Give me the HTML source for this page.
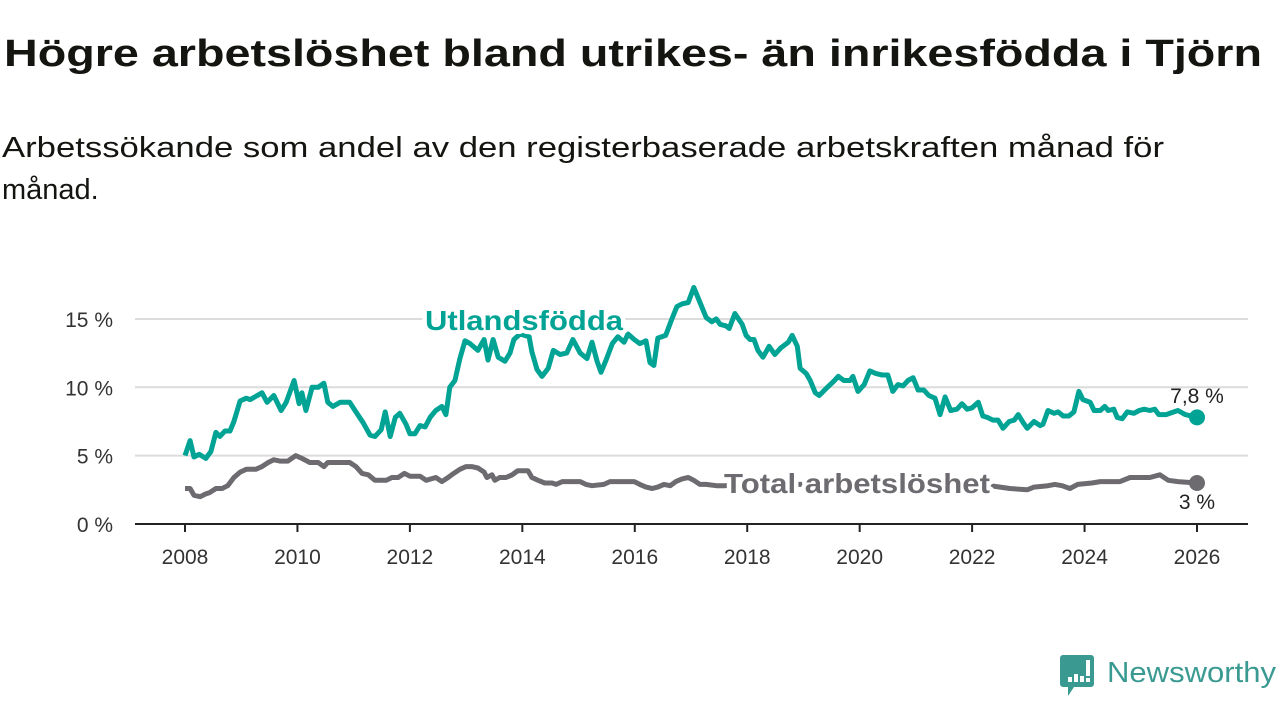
<!DOCTYPE html>
<html><head><meta charset="utf-8">
<style>
html,body{margin:0;padding:0;background:#fff;}
svg{display:block;font-family:"Liberation Sans",sans-serif;}
</style></head>
<body>
<svg id="chart" width="1280" height="720" viewBox="0 0 1280 720" xmlns="http://www.w3.org/2000/svg">
<text x="4" y="66" font-size="38" font-weight="bold" fill="#141410" textLength="1258" lengthAdjust="spacingAndGlyphs">Högre arbetslöshet bland utrikes- än inrikesfödda i Tjörn</text>
<text x="2" y="157" font-size="29" fill="#141410" textLength="1162" lengthAdjust="spacingAndGlyphs">Arbetssökande som andel av den registerbaserade arbetskraften månad för</text>
<text x="2" y="199" font-size="29" fill="#141410">månad.</text>
<g id="grid"></g>
<g id="axes"></g>
<g id="series"></g>
<g id="labels"></g>
<g>
<path d="M1063 655 h28 a3 3 0 0 1 3 3 v26 a3 3 0 0 1 -3 3 h-17 l-6 9 v-9 h-5 a3 3 0 0 1 -3 -3 v-26 a3 3 0 0 1 3 -3z" fill="#3a9a92"/>
<rect x="1068" y="677" width="4" height="5" fill="#fff"/><rect x="1074" y="674" width="4" height="8" fill="#fff"/><rect x="1080" y="676" width="4" height="6" fill="#fff"/><rect x="1086" y="660" width="4" height="16" fill="#fff"/><rect x="1086" y="678" width="4" height="4" fill="#fff"/>
<text x="1107" y="682" font-size="29" fill="#3a9a92" textLength="169" lengthAdjust="spacingAndGlyphs">Newsworthy</text>
</g>
</svg>
<script>
const yearsU = [2008.00,2008.09,2008.16,2008.25,2008.37,2008.46,2008.55,2008.62,2008.71,2008.80,2008.87,2008.98,2009.09,2009.16,2009.37,2009.46,2009.58,2009.71,2009.80,2009.94,2010.03,2010.08,2010.15,2010.26,2010.37,2010.47,2010.54,2010.63,2010.76,2010.93,2011.04,2011.17,2011.29,2011.38,2011.49,2011.56,2011.65,2011.74,2011.82,2011.93,2012.00,2012.09,2012.18,2012.27,2012.36,2012.46,2012.57,2012.64,2012.71,2012.80,2012.89,2012.98,2013.07,2013.21,2013.32,2013.39,2013.48,2013.57,2013.69,2013.78,2013.85,2013.96,2014.12,2014.17,2014.26,2014.35,2014.46,2014.55,2014.67,2014.79,2014.90,2015.03,2015.15,2015.24,2015.33,2015.40,2015.49,2015.60,2015.70,2015.81,2015.88,2015.99,2016.09,2016.20,2016.27,2016.34,2016.41,2016.55,2016.66,2016.75,2016.84,2016.95,2017.05,2017.16,2017.27,2017.37,2017.45,2017.52,2017.62,2017.68,2017.78,2017.91,2017.98,2018.05,2018.12,2018.19,2018.28,2018.39,2018.49,2018.60,2018.73,2018.80,2018.89,2018.94,2019.05,2019.12,2019.21,2019.28,2019.40,2019.53,2019.62,2019.72,2019.83,2019.88,2019.97,2020.08,2020.18,2020.29,2020.40,2020.50,2020.59,2020.68,2020.77,2020.86,2020.95,2021.04,2021.14,2021.23,2021.34,2021.43,2021.52,2021.62,2021.73,2021.82,2021.91,2022.00,2022.11,2022.19,2022.27,2022.37,2022.46,2022.55,2022.66,2022.75,2022.82,2022.91,2022.98,2023.10,2023.21,2023.26,2023.35,2023.46,2023.53,2023.62,2023.72,2023.81,2023.90,2023.97,2024.10,2024.17,2024.28,2024.36,2024.42,2024.52,2024.58,2024.67,2024.76,2024.88,2024.97,2025.06,2025.16,2025.25,2025.32,2025.45,2025.52,2025.66,2025.79,2026.00];
const valuesU = [5.0,6.1,4.9,5.1,4.8,5.3,6.7,6.4,6.8,6.8,7.5,9.0,9.2,9.1,9.6,8.9,9.4,8.3,8.9,10.5,8.8,9.6,8.3,10.0,10.0,10.3,8.9,8.6,8.9,8.9,8.2,7.4,6.5,6.4,6.9,8.2,6.4,7.8,8.1,7.3,6.6,6.6,7.2,7.1,7.8,8.3,8.6,8.0,10.0,10.5,12.1,13.4,13.2,12.7,13.5,12.0,13.5,12.2,11.9,12.5,13.5,13.9,13.7,12.6,11.3,10.8,11.4,12.7,12.4,12.5,13.5,12.5,12.1,13.3,11.9,11.1,12.0,13.2,13.7,13.3,13.9,13.5,13.2,13.4,11.8,11.6,13.6,13.8,15.0,15.9,16.1,16.2,17.3,16.2,15.1,14.8,15.0,14.6,14.5,14.3,15.4,14.6,13.8,13.5,13.5,12.7,12.2,13.0,12.4,12.9,13.3,13.8,13.0,11.4,11.0,10.5,9.6,9.4,9.9,10.4,10.8,10.5,10.5,10.8,9.7,10.2,11.2,11.0,10.9,10.9,9.7,10.2,10.1,10.5,10.7,9.8,9.8,9.4,9.2,8.0,9.3,8.3,8.4,8.8,8.4,8.5,8.9,7.9,7.8,7.6,7.6,7.0,7.5,7.6,8.0,7.4,7.0,7.5,7.2,7.3,8.3,8.1,8.2,7.9,7.9,8.2,9.7,9.1,8.9,8.3,8.3,8.6,8.3,8.4,7.8,7.7,8.2,8.1,8.3,8.4,8.3,8.4,8.0,8.0,8.1,8.3,8.0,7.8];
const yearsT = [2008.00,2008.09,2008.16,2008.27,2008.37,2008.44,2008.55,2008.66,2008.76,2008.87,2008.98,2009.09,2009.26,2009.37,2009.48,2009.58,2009.69,2009.83,2009.97,2010.08,2010.22,2010.37,2010.47,2010.54,2010.67,2010.93,2011.04,2011.15,2011.26,2011.38,2011.58,2011.68,2011.79,2011.90,2012.00,2012.18,2012.29,2012.46,2012.57,2012.68,2012.78,2012.89,2013.00,2013.10,2013.21,2013.32,2013.37,2013.46,2013.51,2013.60,2013.71,2013.82,2013.92,2014.10,2014.17,2014.28,2014.40,2014.53,2014.60,2014.71,2014.94,2015.03,2015.13,2015.24,2015.45,2015.56,2015.99,2016.09,2016.20,2016.31,2016.41,2016.52,2016.63,2016.73,2016.84,2016.95,2017.05,2017.16,2017.27,2017.45,2017.59,2018.00,2019.00,2020.00,2020.30,2020.50,2021.00,2021.50,2022.00,2022.32,2022.50,2022.67,2022.98,2023.10,2023.35,2023.47,2023.60,2023.74,2023.88,2024.13,2024.28,2024.63,2024.81,2024.99,2025.16,2025.34,2025.49,2025.66,2026.00];
const valuesT = [2.6,2.6,2.1,2.0,2.2,2.3,2.6,2.6,2.8,3.4,3.8,4.0,4.0,4.2,4.5,4.7,4.6,4.6,5.0,4.8,4.5,4.5,4.2,4.5,4.5,4.5,4.2,3.7,3.6,3.2,3.2,3.4,3.4,3.7,3.5,3.5,3.2,3.4,3.1,3.4,3.7,4.0,4.2,4.2,4.1,3.8,3.4,3.6,3.2,3.4,3.4,3.6,3.9,3.9,3.4,3.2,3.0,3.0,2.9,3.1,3.1,3.1,2.9,2.8,2.9,3.1,3.1,2.9,2.7,2.6,2.7,2.9,2.8,3.1,3.3,3.4,3.2,2.9,2.9,2.8,2.8,2.9,2.9,3.0,3.2,3.4,3.3,3.1,2.9,2.8,2.7,2.6,2.5,2.7,2.8,2.9,2.8,2.6,2.9,3.0,3.1,3.1,3.4,3.4,3.4,3.6,3.2,3.1,3.0];
const yTicks = [0,5,10,15];
const xTicks = [2008,2010,2012,2014,2016,2018,2020,2022,2024,2026];

const NS='http://www.w3.org/2000/svg';
const X0=185, X1=1197, Y0=524, PX_PER=13.67;
function xs(y){return X0+(y-2008)*(X1-X0)/18;}
function ys(v){return Y0-v*PX_PER;}
function mk(tag,attrs,parent){const e=document.createElementNS(NS,tag);for(const k in attrs)e.setAttribute(k,attrs[k]);parent.appendChild(e);return e;}
const grid=document.getElementById('grid'), axes=document.getElementById('axes'), series=document.getElementById('series'), labels=document.getElementById('labels');

yTicks.forEach(t=>{
  if(t>0){const g=mk('line',{x1:135,x2:1248,y1:ys(t),y2:ys(t),stroke:'#dcdcdc','stroke-width':2},grid);
  
  }
  const tx=mk('text',{x:113,y:ys(t)+8,'font-size':21,fill:'#333','text-anchor':'end'},axes);
  
  
  tx.textContent=t+' %';
});
const ax=mk('line',{x1:135,x2:1248,y1:Y0,y2:Y0,stroke:'#222','stroke-width':2},axes);


xTicks.forEach(t=>{
  const tk=mk('line',{x1:xs(t),x2:xs(t),y1:Y0,y2:Y0+8,stroke:'#222','stroke-width':2},axes);
  
  
  const tx=mk('text',{x:xs(t),y:564,'font-size':21,fill:'#333','text-anchor':'middle'},axes);
  
  
  tx.textContent=t;
});
function path(years,vals){return years.map((y,i)=>(i?'L':'M')+xs(y).toFixed(1)+' '+ys(vals[i]).toFixed(1)).join(' ');}
const pT=mk('path',{d:path(yearsT,valuesT),fill:'none',stroke:'#6d6b70','stroke-width':5,'stroke-linejoin':'round'},series);


const pU=mk('path',{d:path(yearsU,valuesU),fill:'none',stroke:'#00a394','stroke-width':5,'stroke-linejoin':'round'},series);


const dU=mk('circle',{cx:xs(yearsU[yearsU.length-1]),cy:ys(valuesU[valuesU.length-1]),r:8,fill:'#00a394'},series);


const dT=mk('circle',{cx:xs(yearsT[yearsT.length-1]),cy:ys(valuesT[valuesT.length-1]),r:8,fill:'#6d6b70'},series);



const l1=mk('text',{x:425,y:330,'font-size':28,'font-weight':'bold',fill:'#00a394',textLength:198,lengthAdjust:'spacingAndGlyphs',stroke:'#fff','stroke-width':8,'paint-order':'stroke','stroke-linejoin':'round'},labels);


l1.textContent='Utlandsfödda';
const l2=mk('text',{x:724,y:493,'font-size':28,'font-weight':'bold',fill:'#6d6b70',textLength:266,lengthAdjust:'spacingAndGlyphs',stroke:'#fff','stroke-width':8,'paint-order':'stroke','stroke-linejoin':'round'},labels);


l2.textContent='Total arbetslöshet';
const e1=mk('text',{x:1197,y:403,'font-size':21,fill:'#222','text-anchor':'middle'},labels);


e1.textContent=valuesU[valuesU.length-1].toString().replace('.',',')+' %';
const e2=mk('text',{x:1197,y:509,'font-size':21,fill:'#222','text-anchor':'middle'},labels);


e2.textContent=valuesT[valuesT.length-1].toString().replace('.',',')+' %';
</script>
</body></html>
